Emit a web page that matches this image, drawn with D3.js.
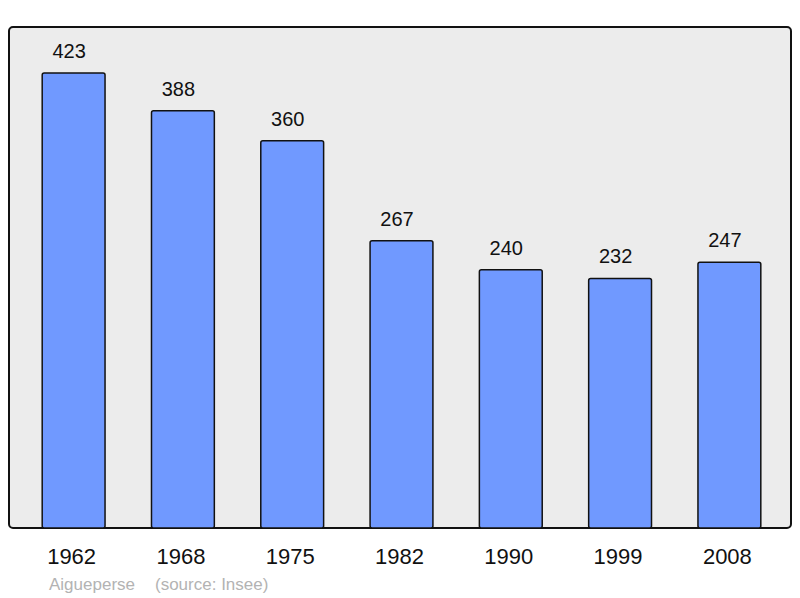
<!DOCTYPE html>
<html>
<head>
<meta charset="utf-8">
<script src="https://cdn.jsdelivr.net/npm/d3@7"></script>
<style>
  body { margin: 0; background: #fff; }
  svg { display: block; font-family: "Liberation Sans", Arial, sans-serif; }
</style>
</head>
<body>
<div id="chart"></div>
<script>
// population data
const years = ["1962", "1968", "1975", "1982", "1990", "1999", "2008"];
const population = [423, 388, 360, 267, 240, 232, 247];
const commune = "Aigueperse";
const source = "(source: Insee)";

const width = 800;
const height = 598;

const svg = d3.select("#chart")
    .append("svg")
    .attr("width", width)
    .attr("height", height);

// grey panel
svg.append("rect")
    .attr("x", 9)
    .attr("y", 27)
    .attr("width", 782)
    .attr("height", 501)
    .attr("rx", 4)
    .attr("fill", "#ececec")
    .attr("stroke", "#111")
    .attr("stroke-width", 2);

const x = d3.scaleBand()
    .domain(years)
    .range([10, 792])
    .paddingInner(0.425)
    .paddingOuter(0.29);

const y = d3.scaleLinear()
    .domain([0, d3.max(population)])
    .range([528, 73]);

const data = years.map((yr, i) => ({ year: yr, value: population[i] }));

svg.selectAll(".bar")
    .data(data)
    .enter().append("rect")
    .attr("class", "bar")
    .attr("x", d => x(d.year) + 0.5)
    .attr("y", d => y(d.value))
    .attr("width", x.bandwidth())
    .attr("height", d => y(0) - y(d.value))
    .attr("rx", 2)
    .attr("fill", "#7099ff")
    .attr("stroke", "#111")
    .attr("stroke-width", 1.5);

// value labels
svg.selectAll(".val")
    .data(data)
    .enter().append("text")
    .attr("class", "val")
    .attr("x", d => x(d.year) + x.bandwidth() / 2 - 4)
    .attr("y", d => y(d.value) - 15)
    .attr("text-anchor", "middle")
    .style("font-size", "20px")
    .attr("fill", "#111")
    .text(d => d.value);

// year labels
svg.selectAll(".yr")
    .data(data)
    .enter().append("text")
    .attr("class", "yr")
    .attr("x", d => x(d.year) + x.bandwidth() / 2 - 1.5)
    .attr("y", 564)
    .attr("text-anchor", "middle")
    .style("font-size", "22px")
    .attr("fill", "#111")
    .text(d => d.year);

// caption
svg.append("text")
    .attr("x", 49)
    .attr("y", 590)
    .style("font-size", "17px")
    .attr("fill", "#b3b3b3")
    .text(commune);

svg.append("text")
    .attr("x", 155)
    .attr("y", 590)
    .style("font-size", "17px")
    .attr("fill", "#b3b3b3")
    .text(source);
</script>
</body>
</html>
